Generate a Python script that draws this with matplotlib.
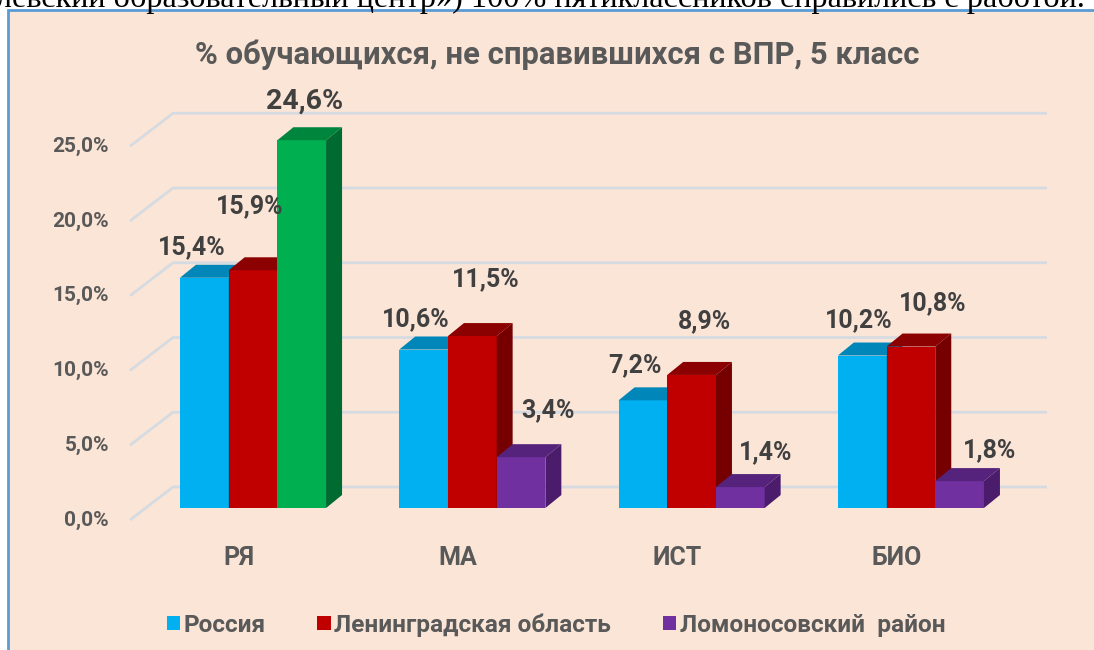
import numpy as np
import matplotlib.pyplot as plt
from matplotlib.patches import Rectangle, Polygon, Patch

# данные
categories = ["РЯ", "МА", "ИСТ", "БИО"]
series = ["Россия", "Ленинградская область", "Ломоносовский  район"]
russia = [15.4, 10.6, 7.2, 10.2]
lenobl = [15.9, 11.5, 8.9, 10.8]
lomonosov = [24.6, 3.4, 1.4, 1.8]
yticks = [0, 5, 10, 15, 20, 25]

# цвета: лицевая грань, верх, бок
front_colors = [["#00b0f0"] * 4, ["#c00000"] * 4, ["#00b050", "#7030a0", "#7030a0", "#7030a0"]]
top_colors = [["#0086b8"] * 4, ["#8b0000"] * 4, ["#00853d", "#55237b", "#55237b", "#55237b"]]
side_colors = [["#0078a8"] * 4, ["#760000"] * 4, ["#006b30", "#4a1c6b", "#4a1c6b", "#4a1c6b"]]

# сдвиги подписей (пиксели) относительно верха столбика
label_nudge = [
    [(-12, 31), (-8, 30), (-8, 35), (-3, 35)],
    [(-3, 64), (14, 57), (13, 54), (22, 43)],
    [(3, 39), (27, 47), (25, 35), (30, 31)],
]

W, H = 1094, 650
fig = plt.figure(figsize=(W / 100, H / 100), dpi=100)
fig.patch.set_facecolor("white")

FONT = ["Roboto", "DejaVu Sans"]
GREY = "#595959"

# фон и рамка диаграммы
fig.patches.append(Rectangle((8 / W, -0.1), 1.2, 1 - 10 / H + 0.1, transform=fig.transFigure,
                             facecolor="#fbe5d6", edgecolor="#5b9bd5", linewidth=2, zorder=0))

# обрезанная строка текста сверху
fig.text(-4 / W, 1 - 7 / H, "левский образовательный центр») 100% пятиклассников справились с работой.",
         family=["Liberation Serif", "DejaVu Serif"], fontsize=23.2, color="black",
         ha="left", va="baseline", zorder=1)

ax = fig.add_axes([0, 0, 1, 1])
ax.set_zorder(2)
ax.set_facecolor("none")
ax.axis("off")

px_x = 219.3   # пикселей на категорию
px_y = 14.95   # пикселей на 1 %
x_origin = 253
y_origin = 508
ax.set_xlim(-x_origin / px_x, (W - x_origin) / px_x)
ax.set_ylim(-(H - y_origin) / px_y, y_origin / px_y)

bw = 48.7 / px_x
ddx = 16 / px_x
ddy = 13 / px_y

# линии сетки на задней стенке
gx_front = (130 - x_origin) / px_x
gx_back = (173 - x_origin) / px_x
gx_end = (1047 - x_origin) / px_x
g_front_dy = -12 / px_y
g_back_dy = 21 / px_y
for v in yticks:
    ax.plot([gx_front, gx_back, gx_end], [v + g_front_dy, v + g_back_dy, v + g_back_dy],
            color="#d6dbe2", linewidth=2, zorder=1, solid_capstyle="butt")
    ax.text((109 - x_origin) / px_x, v + g_front_dy, f"{v:.1f}%".replace(".", ","),
            ha="right", va="center", fontsize=15, fontweight="bold", color=GREY, family=FONT)

x = np.arange(len(categories))
values = [russia, lenobl, lomonosov]
z = 2
for i in range(len(categories)):
    for j, vals in enumerate(values):
        h = vals[i]
        x0 = x[i] + (j - 1.5) * bw
        x1 = x0 + bw
        ax.bar(x0, h, width=bw, align="edge", color=front_colors[j][i], zorder=z)
        ax.add_patch(Polygon([(x0, h), (x1, h), (x1 + ddx, h + ddy), (x0 + ddx, h + ddy)],
                             closed=True, facecolor=top_colors[j][i], edgecolor="none", zorder=z))
        ax.add_patch(Polygon([(x1, 0), (x1, h), (x1 + ddx, h + ddy), (x1 + ddx, ddy)],
                             closed=True, facecolor=side_colors[j][i], edgecolor="none", zorder=z))
        z += 1

# подписи значений
for i in range(len(categories)):
    for j, vals in enumerate(values):
        cx = x[i] + (j - 1) * bw
        dx, dy = label_nudge[j][i]
        size = 20.5 if (i, j) == (0, 2) else 18
        ax.annotate(f"{vals[i]:.1f}%".replace(".", ","), (cx, vals[i]), xytext=(dx, dy),
                    textcoords="offset pixels", ha="center", va="center", fontsize=size,
                    fontweight="bold", color="#404040", family=FONT, zorder=50)

# подписи категорий
for i, c in enumerate(categories):
    ax.text(x[i] - 14 / px_x, -(558 - y_origin) / px_y, c, ha="center", va="center",
            fontsize=18, fontweight="bold", color=GREY, family=FONT)

# заголовок
fig.text(557 / W, 1 - 55 / H, "% обучающихся, не справившихся с ВПР, 5 класс",
         ha="center", va="center", fontsize=22.3, fontweight="bold", color=GREY, family=FONT,
         zorder=3)

# легенда
handles = [Patch(facecolor=c) for c in ["#00b0f0", "#c00000", "#7030a0"]]
leg = fig.legend(handles, series, loc="center", bbox_to_anchor=(556 / W, 1 - 625 / H), ncol=3,
                 frameon=False, handlelength=0.55, handleheight=0.55, handletextpad=0.15,
                 columnspacing=2.1, prop={"family": FONT, "weight": "bold", "size": 17.6})
leg.set_zorder(3)
for t in leg.get_texts():
    t.set_color(GREY)

fig.savefig("out.png", dpi=100)
